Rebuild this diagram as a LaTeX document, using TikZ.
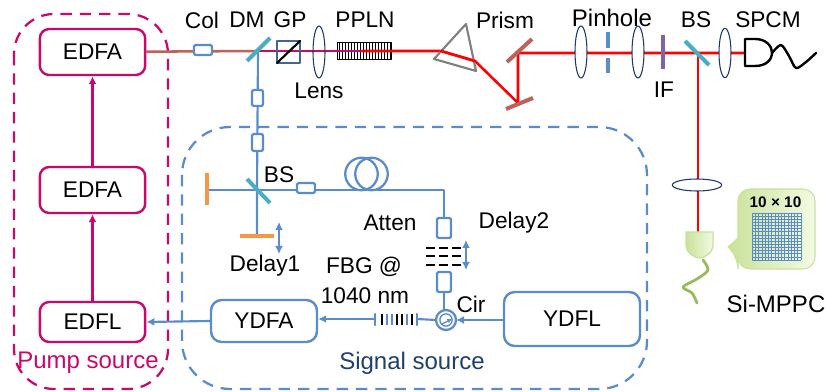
\documentclass[tikz,border=0pt]{standalone}
\usepackage{fontspec}
\setmainfont{Liberation Sans}
\usepackage{tikz}
\usetikzlibrary{arrows.meta}
\definecolor{pumpcol}{HTML}{C8086C}
\definecolor{sigcol}{HTML}{5A8CCB}
\definecolor{sigtext}{HTML}{1F3F6E}
\definecolor{brownbeam}{HTML}{C0605A}
\definecolor{mirrorcol}{HTML}{4BACC6}
\definecolor{orangecol}{HTML}{F79646}
\definecolor{lensedge}{HTML}{1F3864}
\definecolor{gpcol}{HTML}{41668F}
\definecolor{ifcol}{HTML}{8064A2}
\definecolor{prismcol}{HTML}{808080}
\definecolor{wirecol}{HTML}{9BBB59}
\definecolor{palegreen}{HTML}{C9E29A}
\definecolor{paleend}{HTML}{F3FAE3}

\begin{document}
\begin{tikzpicture}[x=0.75pt,y=-0.75pt,>=Latex,line cap=round,line join=round]
  \tikzset{
    txt/.style={font=\fontsize{17}{20}\selectfont,inner sep=0pt,text=black},
    txtb/.style={font=\fontsize{18}{20}\selectfont,inner sep=0pt,text=black},
    pumpbox/.style={draw=pumpcol,line width=1.8pt,rounded corners=7pt,fill=white,txt},
    sigbox/.style={draw=sigcol,line width=1.8pt,rounded corners=8pt,fill=white,txt},
    frame/.style={line width=1.7pt,line cap=butt,rounded corners=30pt,dash pattern=on 8.5pt off 6pt},
    iso/.style={draw=sigcol,line width=1.7pt,rounded corners=1.5pt,fill=white},
    fib/.style={draw=sigcol,line width=1.6pt},
    pumpln/.style={draw=pumpcol,line width=1.9pt},
    beam/.style={draw=red,line width=1.9pt},
    lens/.style={draw=lensedge,line width=0.8pt,fill=white},
    bsm/.style={draw=mirrorcol,line width=3pt,line cap=butt},
    mirror/.style={draw=brownbeam,line width=3pt,line cap=butt},
    stage/.style={<->,draw=sigcol,line width=1.3pt,>={Latex[length=6pt,width=6pt]}}
  }

  \path[use as bounding box] (0,0) rectangle (826,392);

  \draw[frame,draw=pumpcol] (14,14) rectangle (168,389);
  \draw[frame,draw=sigcol,rounded corners=36pt] (182,127) rectangle (647,389);

  \node[pumpbox,minimum width=79pt,minimum height=34.5pt] (edfa1) at (92.5,52) {EDFA};
  \node[pumpbox,minimum width=79pt,minimum height=34.5pt] (edfa2) at (92.5,190) {EDFA};
  \node[pumpbox,minimum width=79pt,minimum height=30pt] (edfl) at (92.5,322) {EDFL};
  \node[sigbox,minimum width=79.5pt,minimum height=31.5pt] (ydfa) at (264,321) {YDFA};
  \node[sigbox,minimum width=102pt,minimum height=40.5pt] (ydfl) at (572,319) {YDFL};

  \draw[pumpln,->,>={Latex[length=6pt,width=6pt]}] (edfl) -- (edfa2);
  \draw[pumpln,->,>={Latex[length=6pt,width=6pt]}] (edfa2) -- (edfa1);

  % points of the free space path
  \coordinate (dm) at (258,51);
  \coordinate (crystal) at (362,51);
  \coordinate (prisma) at (441,51);
  \coordinate (prismb) at (475,61);
  \coordinate (mirb) at (518,103);
  \coordinate (mira) at (518,53);
  \coordinate (split) at (698,53);
  \coordinate (spcm) at (745,53);
  \coordinate (mppc) at (698,232);
  \coordinate (bsa) at (257,190);
  \coordinate (mirc) at (207,190);
  \coordinate (mird) at (257,236);
  \coordinate (atten) at (444,190);
  \coordinate (cir) at (446,320);
  \coordinate (fbgr) at (417,319);
  \coordinate (fbgl) at (375,319);

  % PPLN
  \draw[line width=0.6pt,fill=white] (337,42) rectangle (391,59);
  \foreach \x in {339,342,...,390} {
    \draw[line width=0.55pt,line cap=butt] (\x,42) -- (\x,59);
  }

  \draw[draw=brownbeam,line width=1.9pt] (edfa1) -- (dm);
  \draw[pumpln] (dm) -- (crystal);
  \draw[beam] (crystal) -- (prisma) -- (prismb) -- (mirb) -- (mira) -- (spcm);
  \draw[beam] (split) -- (mppc);
  \draw[fib] (dm) -- (bsa) -- (mird);
  \draw[fib] (mirc) -- (bsa) -- (atten) -- (444,218);
  \draw[fib] (444,292) -- (444,310);

  % collimator and isolators
  \draw[iso] (194,45) rectangle (212,55);
  \draw[iso] (252,90) rectangle (263,106);
  \draw[iso] (252,134) rectangle (263,151);
  \draw[iso] (297,183) rectangle (315,193);
  \draw[iso] (437,218) rectangle (451,238);
  \draw[iso] (437,272) rectangle (451,292);

  \draw[bsm] (247,61) -- (270,38);
  \draw[bsm] (247,179) -- (270,203);
  \draw[bsm] (685,41) -- (709,65);

  \draw[draw=gpcol,line width=1.7pt] (277,41) rectangle (300,63);
  \draw[line width=1.6pt] (277,63) -- (300,41);

  \draw[lens,fill=none] (319,52) ellipse[x radius=4.5pt,y radius=19.5pt];
  \draw[lens] (581,52) ellipse[x radius=4.5pt,y radius=19.5pt];
  \draw[lens] (638,52) ellipse[x radius=4.5pt,y radius=19.5pt];
  \draw[lens] (725,53) ellipse[x radius=4.5pt,y radius=18.5pt];
  \draw[lens] (697,185) ellipse[x radius=18.5pt,y radius=4.5pt];

  \draw[draw=prismcol,line width=1.6pt] (466,24) -- (434,59) -- (476,71) -- cycle;
  \draw[beam] (prisma) -- (prismb);
  \draw[mirror] (507,62) -- (532,39);
  \draw[mirror] (506,109) -- (533,98);

  % pinhole and filter
  \draw[draw=sigcol,line width=2.8pt,line cap=butt] (608,32) -- (608,48);
  \draw[draw=sigcol,line width=2.8pt,line cap=butt] (608,58) -- (608,73);
  \draw[draw=ifcol,line width=3pt,line cap=butt] (663,35) -- (663,69);

  % SPCM
  \draw[line width=1.8pt,fill=white]
    (745,39) -- (755,39)
    .. controls (766,39) and (772,46) .. (772,52.5)
    .. controls (772,60) and (766,66) .. (755,66)
    -- (745,66) -- cycle;
  \draw[line width=1.8pt] plot[smooth] coordinates {(772,53) (781,45) (789,56) (796,68) (806,62) (816,53)};

  % delay mirrors
  \draw[draw=orangecol,line width=3.2pt,line cap=butt] (207,173) -- (207,205);
  \draw[draw=orangecol,line width=3.2pt,line cap=butt] (240,236) -- (274,236);
  \draw[stage] (279,222) -- (279,254);
  \draw[stage] (466,240) -- (466,270);

  % fiber coil
  \draw[fib,line width=1.7pt] (361.5,174) circle[radius=12.2pt];
  \draw[fib,line width=1.7pt] (371.5,174) circle[radius=12.2pt];

  % attenuator grating
  \foreach \y in {248,256,265} {
    \foreach \x in {426,439,452} {
      \draw[line width=1.9pt,line cap=butt] (\x,\y) -- ++(9,0);
    }
  }

  % circulator
  \draw[draw=sigcol,line width=1.7pt,fill=white] (cir) circle[radius=7.5pt];
  \draw[draw=sigcol,line width=1pt] (cir) circle[radius=4.6pt];
  \draw[draw=sigcol,line width=1pt,->,>={Latex[length=3.5pt,width=3.5pt]}] (442,324) -- (452,319);

  \draw[fib,->,>={Latex[length=6pt,width=6pt]}] (ydfl.west |- cir) -- (456,320);
  \draw[fib] (436,320) -- (fbgr);
  \draw[fib] (417,314) -- (417,325);
  \draw[fib,->,>={Latex[length=6pt,width=6pt]}] (fbgl) -- (ydfa.east |- fbgl);
  \draw[fib] (375,314) -- (375,325);
  \foreach \x/\c in {382/black,387/sigcol,392/sigcol,397/black,402/black,407/sigcol,412/black} {
    \draw[draw=\c,line width=1.5pt,line cap=butt] (\x,314) -- (\x,325);
  }
  \draw[fib,->,>={Latex[length=6pt,width=6pt]}] (ydfa.west) -- (edfl.east);

  % Si-MPPC
  \draw[draw=palegreen,line width=1pt,left color=palegreen,right color=paleend]
    (686,232) -- (713,232) -- (713,246)
    .. controls (713,252) and (705,258) .. (699.5,258)
    .. controls (694,258) and (686,252) .. (686,246) -- cycle;
  \draw[draw=wirecol,line width=2.1pt] plot[smooth] coordinates {(703,260) (708,270) (697,279) (683,287) (692,293) (697,303)};
  \draw[draw=palegreen,line width=0.8pt,left color=palegreen,right color=paleend,rounded corners=9pt]
    (738,225) -- (738,189) -- (815,189) -- (815,269) -- (738,269) -- (738,257)
    [sharp corners] -- (728,247) -- (738,238) -- cycle;
  \foreach \i in {0,...,15} {
    \draw[draw=sigcol,line width=0.45pt,line cap=butt] (752+\i*3.27,213) -- (752+\i*3.27,260);
    \draw[draw=sigcol,line width=0.45pt,line cap=butt] (752,213+\i*3.13) -- (801,213+\i*3.13);
  }
  \node[font=\fontsize{11.5}{13}\selectfont\bfseries,inner sep=0pt] (gridlab) at (775.5,202) {10\;×\;10};

  % labels
  \node[txt] (collab) at (202,20) {Col};
  \node[txt] (dmlab) at (247,20) {DM};
  \node[txt] (gplab) at (290,20) {GP};
  \node[txt] (ppln) at (365,20) {PPLN};
  \node[txt] (lenslab) at (319,91) {Lens};
  \node[txt] (prism) at (505,20) {Prism};
  \node[txtb] (pinhole) at (612,18) {Pinhole};
  \node[txt] (bsb) at (696,20) {BS};
  \node[txt] (spcmlab) at (768,20) {SPCM};
  \node[txt] (iflab) at (664,90) {IF};
  \node[txt] (bslab) at (279,175) {BS};
  \node[txt] (attenlab) at (390,223) {Atten};
  \node[txt] (delayb) at (514,223) {Delay2};
  \node[txt] (delaya) at (265,266) {Delay1};
  \node[txt] (fbga) at (364,267) {FBG @};
  \node[txt] (fbgb) at (365,296) {1040 nm};
  \node[txt] (cirlab) at (471,304) {Cir};
  \node[txtb] (mppclab) at (776,304) {Si-MPPC};
  \node[txtb,text=pumpcol] (pumplab) at (88,363) {Pump source};
  \node[txtb,text=sigtext] (siglab) at (412,363) {Signal source};
\end{tikzpicture}
\end{document}
